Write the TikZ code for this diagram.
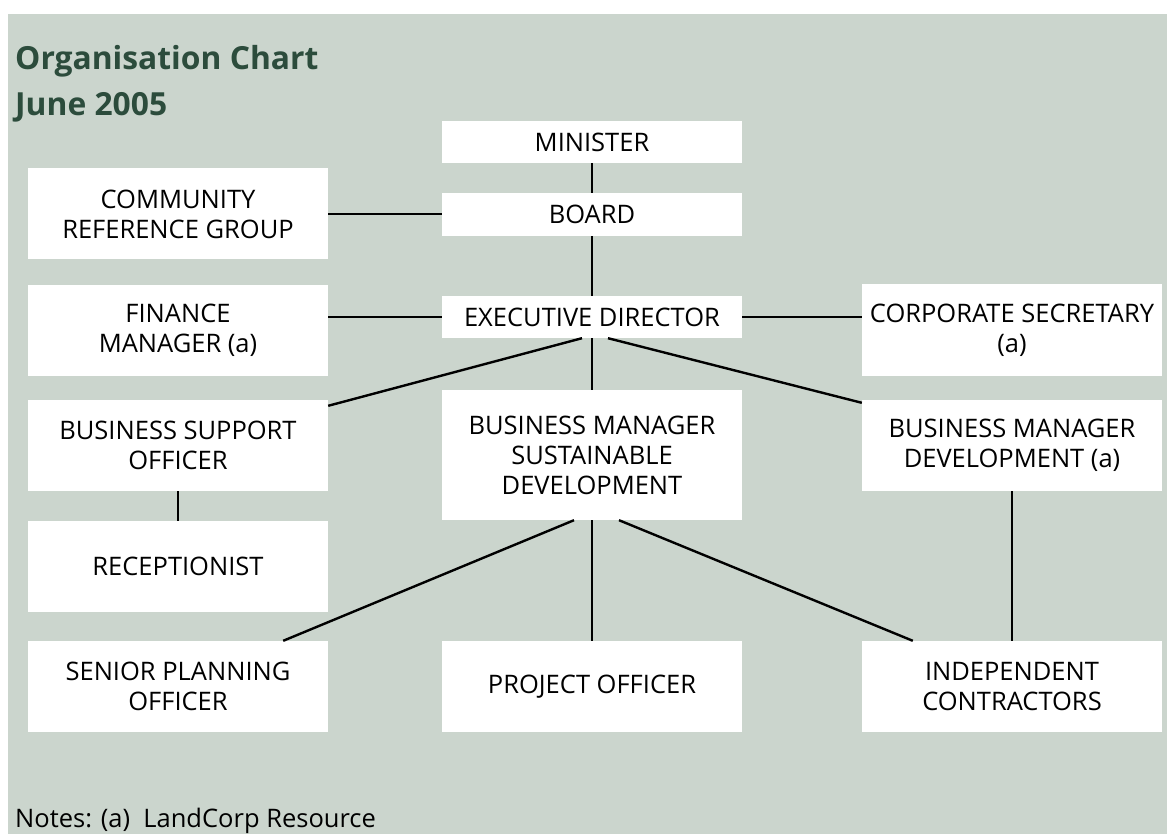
\documentclass[tikz,border=0pt]{standalone}
\usepackage{fontspec}
\setmainfont{Open Sans}
\definecolor{panel}{RGB}{203,213,205}
\definecolor{heading}{RGB}{44,76,60}
\tikzset{
  box/.style={fill=white, minimum width=300pt, minimum height=91pt, inner sep=0pt,
    align=center, font=\fontsize{25.5}{30}\selectfont},
  slim/.style={box, minimum height=42pt},
  link/.style={line width=2.4pt, black},
  heading text/.style={anchor=base west, inner sep=0pt, text=heading,
    font=\bfseries\fontsize{31.8}{36}\selectfont}
}
\begin{document}
\begin{tikzpicture}[x=1pt,y=-1pt]
  \useasboundingbox (0,0) rectangle (1167,834);
  \fill[panel] (8,14) rectangle (1167,834);

  \path (15,70) node[heading text] (title) {Organisation Chart};
  \path (15,116) node[heading text] (date) {June 2005};

  % centre column
  \path (592,142) node[slim] (minister) {MINISTER};
  \path (592,214.5) node[slim, minimum height=43pt] (board) {BOARD};
  \path (592,317) node[slim] (exec) {EXECUTIVE DIRECTOR};
  \path (592,455) node[box, minimum height=130pt] (bmsd) {BUSINESS MANAGER\\SUSTAINABLE\\DEVELOPMENT};
  \path (592,686.5) node[box] (po) {PROJECT OFFICER};

  % left column
  \path (178,214) node[box] (crg) {COMMUNITY\\REFERENCE GROUP};
  \path (178,330.5) node[box] (finance) {FINANCE\\MANAGER (a)};
  \path (178,445.5) node[box] (bso) {BUSINESS SUPPORT\\OFFICER};
  \path (178,566.5) node[box] (recep) {RECEPTIONIST};
  \path (178,686.5) node[box] (spo) {SENIOR PLANNING\\OFFICER};

  % right column
  \path (1012,330) node[box] (corpsec) {CORPORATE SECRETARY\\(a)};
  \path (1012,445.5) node[box] (bmd) {BUSINESS MANAGER\\DEVELOPMENT (a)};
  \path (1012,686.5) node[box] (ic) {INDEPENDENT\\CONTRACTORS};

  \path (15,827) node[anchor=base west, inner sep=0pt, font=\fontsize{25.5}{30}\selectfont] (notes) {Notes: (a)\ \ LandCorp Resource};

  \begin{scope}[link]
    \draw (minister) -- (board);
    \draw (board) -- (exec);
    \draw (crg) -- (crg -| board.west);
    \draw (exec.west) -- (exec.west -| finance.east);
    \draw (exec.east) -- (exec.east -| corpsec.west);
    \draw ([xshift=-10pt]exec.south) -- ([yshift=-6pt]bso.north east);
    \draw (exec) -- (bmsd);
    \draw ([xshift=16pt]exec.south) -- ([yshift=-3pt]bmd.north west);
    \draw (bso) -- (recep);
    \draw ([xshift=-18pt]bmsd.south) -- ([xshift=-45pt]spo.north east);
    \draw (bmsd) -- (po);
    \draw ([xshift=27pt]bmsd.south) -- ([xshift=51pt]ic.north west);
    \draw (bmd) -- (ic);
  \end{scope}
\end{tikzpicture}
\end{document}
